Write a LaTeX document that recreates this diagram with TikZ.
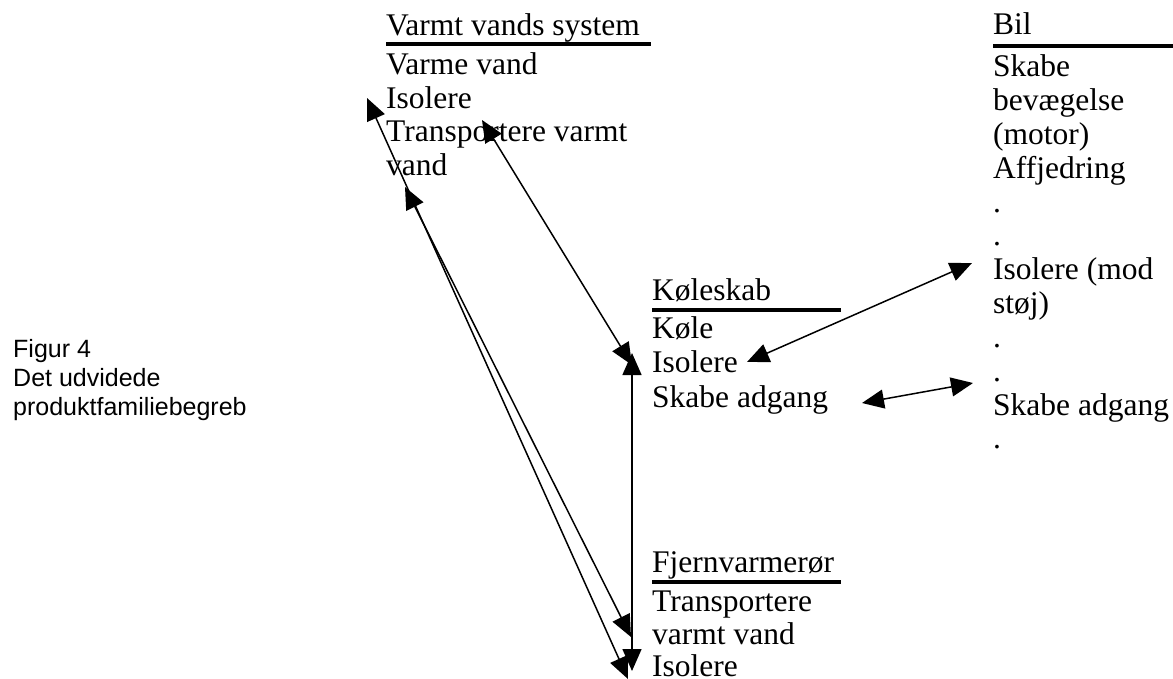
\documentclass[tikz,border=0pt]{standalone}
\usepackage{fontspec}
\setmainfont{Liberation Serif}
\newfontfamily\figsans{Liberation Sans}
\usetikzlibrary{arrows.meta}
\begin{document}
\begin{tikzpicture}[x=1pt,y=-1pt,
  txt/.style={anchor=base west, inner sep=0pt, font=\fontsize{31.5}{34}\selectfont},
  captxt/.style={anchor=base west, inner sep=0pt, font=\figsans\fontsize{25}{29}\selectfont},
  hrule/.style={line width=4.5pt},
  link/.style={line width=1.5pt, {Triangle[length=22pt,width=19pt]}-{Triangle[length=22pt,width=19pt]}}]
\useasboundingbox (0,0) rectangle (1173,679);
% caption
\node[captxt] (c1) at (13,357) {Figur 4};
\node[captxt] (c2) at (13,386) {Det udvidede};
\node[captxt] (c3) at (13,415) {produktfamiliebegreb};
% Varmt vands system
\node[txt] (vh) at (386,36) {Varmt vands system};
\draw[hrule] (386,44) -- (651,44);
\node[txt] (v1) at (386,75) {Varme vand};
\node[txt] (v2) at (386,108.5) {Isolere};
\node[txt] (v3) at (386,142) {Transportere varmt};
\node[txt] (v4) at (386,176) {vand};
% Bil
\node[txt] (bh) at (993,35) {Bil};
\draw[hrule] (993,46) -- (1173,46);
\node[txt] (b1) at (993,77) {Skabe};
\node[txt] (b2) at (993,110.8) {bevægelse};
\node[txt] (b3) at (993,144.6) {(motor)};
\node[txt] (b4) at (993,178.4) {Affjedring};
\node[txt] (b5) at (993,212.2) {.};
\node[txt] (b6) at (993,246) {.};
\node[txt] (b7) at (993,279.8) {Isolere (mod};
\node[txt] (b8) at (993,313.6) {støj)};
\node[txt] (b9) at (993,347.4) {.};
\node[txt] (b10) at (993,381.2) {.};
\node[txt] (b11) at (993,415) {Skabe adgang};
\node[txt] (b12) at (993,448.8) {.};
% Koeleskab
\node[txt] (kh) at (652,300) {Køleskab};
\draw[hrule] (652,310) -- (841,310);
\node[txt] (k1) at (652,338) {Køle};
\node[txt] (k2) at (652,372.5) {Isolere};
\node[txt] (k3) at (652,407) {Skabe adgang};
% Fjernvarmeroer
\node[txt] (fh) at (652,572) {Fjernvarmerør};
\draw[hrule] (652,582) -- (841,582);
\node[txt] (f1) at (652,611) {Transportere};
\node[txt] (f2) at (652,644.5) {varmt vand};
\node[txt] (f3) at (652,676.5) {Isolere};
% connector end points
\coordinate (vIso) at (367,98);
\coordinate (vVand) at (405,187);
\coordinate (vTrans) at (482,120);
\coordinate (fIso) at (628,679);
\coordinate (fTrans) at (631,637);
\coordinate (kIsoA) at (632,365);
\coordinate (kIsoB) at (632,353);
\coordinate (fIsoB) at (632,671);
\coordinate (kIsoR) at (747,362);
\coordinate (bIso) at (972,263);
\coordinate (kAdg) at (862,403);
\coordinate (bAdg) at (973,383);
% connectors
\draw[link] (vIso) -- (fIso);
\draw[link] (vVand) -- (fTrans);
\draw[link] (vTrans) -- (kIsoA);
\draw[link] (kIsoB) -- (fIsoB);
\draw[link] (kIsoR) -- (bIso);
\draw[link] (kAdg) -- (bAdg);
\end{tikzpicture}
\end{document}
